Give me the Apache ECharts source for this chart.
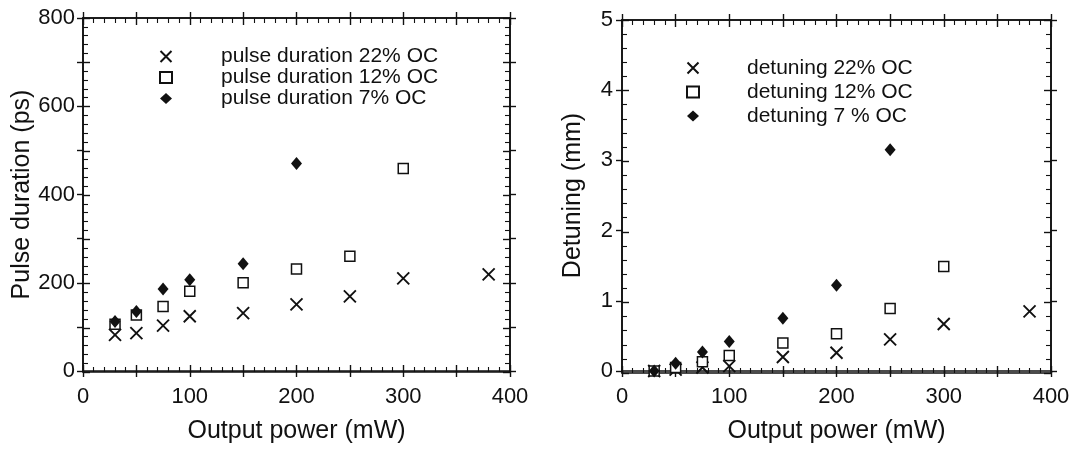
<!DOCTYPE html>
<html>
<head>
<meta charset="utf-8">
<script src="https://cdn.jsdelivr.net/npm/echarts@6/dist/echarts.min.js"></script>
<style>
  html, body { margin: 0; padding: 0; background: #fff; }
  #main { width: 1079px; height: 449px; }
</style>
</head>
<body>
<div id="main"></div>
<script>
// left panel: pulse duration (ps) vs output power (mW)
const power22 = [30, 50, 75, 100, 150, 200, 250, 300, 380];
const pulse22 = [82, 86, 103, 124, 131, 151, 169, 210, 219];
const power12 = [30, 50, 75, 100, 150, 200, 250, 300];
const pulse12 = [106, 127, 146, 181, 200, 231, 260, 459];
const power7 = [30, 50, 75, 100, 150, 200];
const pulse7 = [112, 135, 186, 207, 243, 470];

// right panel: detuning (mm) vs output power (mW)
const detPower22 = [30, 50, 75, 100, 150, 200, 250, 300, 380];
const detuning22 = [0, 0.02, 0.05, 0.07, 0.2, 0.26, 0.45, 0.67, 0.85];
const detPower12 = [30, 50, 75, 100, 150, 200, 250, 300];
const detuning12 = [0, 0.05, 0.13, 0.22, 0.4, 0.53, 0.89, 1.49];
const detPower7 = [30, 50, 75, 100, 150, 200, 250];
const detuning7 = [0, 0.11, 0.27, 0.42, 0.75, 1.22, 3.15];

const xLabels = [0, 100, 200, 300, 400];
const pulseLabels = [0, 200, 400, 600, 800];

const FONT = "'Liberation Sans', Arial, sans-serif";
const INK = '#111';
const CROSS = 'path://M0,0L10,10M0,10L10,0';

function pairs(xs, ys) {
  return xs.map((x, i) => [x, ys[i]]);
}

// outward: labelled axis with ticks sticking out; inward: same scale, ticks + minor ticks inside
function axis(o) {
  const inward = !!o.inward;
  return {
    type: 'value',
    gridIndex: o.grid, position: o.pos,
    min: o.min, max: o.max, interval: o.interval,
    name: o.name || '', nameLocation: 'middle', nameGap: o.nameGap || 0,
    nameTextStyle: { fontFamily: FONT, fontSize: 25, color: INK },
    axisLine: { show: true, onZero: false, lineStyle: { color: INK, width: 1.6 } },
    axisTick: { show: true, inside: inward, length: inward ? 7 : 6, lineStyle: { color: INK, width: 1.4 } },
    minorTick: { show: inward, splitNumber: 5, length: 5, lineStyle: { color: INK, width: 1.1 } },
    splitLine: { show: false },
    minorSplitLine: { show: false },
    axisLabel: {
      show: !!o.labels, margin: o.margin || 8,
      fontFamily: FONT, fontSize: 22, color: INK,
      formatter: o.labels ? (v => o.labels.includes(v) ? String(v) : '') : undefined
    }
  };
}

const crossStyle = { color: INK, borderColor: INK, borderWidth: 1.9, opacity: 1 };
const squareStyle = { color: '#fff', borderColor: INK, borderWidth: 1.5, opacity: 1 };
const diamondStyle = { color: INK, opacity: 1 };

function scatter(name, data, kind, xi, yi) {
  const s = { name, type: 'scatter', xAxisIndex: xi, yAxisIndex: yi, data, z: 3 };
  if (kind === 'x') { s.symbol = CROSS; s.symbolSize = 12; s.itemStyle = crossStyle; }
  if (kind === 's') { s.symbol = 'rect'; s.symbolSize = 10; s.itemStyle = squareStyle; }
  if (kind === 'd') { s.symbol = 'diamond'; s.symbolSize = [11, 13]; s.itemStyle = diamondStyle; }
  return s;
}

function legend(names, left, top, pad, lh) {
  return {
    data: names, orient: 'vertical', left, top,
    itemWidth: 12, itemHeight: 11, itemGap: 0,
    selectedMode: false,
    textStyle: { fontFamily: FONT, fontSize: 21, color: INK, lineHeight: lh, padding: [0, 0, 0, pad] }
  };
}

const leftRect = { left: 83, right: 569, top: 18, bottom: 77 };
const rightRect = { left: 622, right: 28, top: 20, bottom: 76 };

const chart = echarts.init(document.getElementById('main'));
chart.setOption({
  backgroundColor: '#fff',
  animation: false,
  // grids 0/1 carry data + outward ticks, grids 2/3 overlay them for inward ticks
  grid: [leftRect, rightRect, leftRect, rightRect],
  legend: [
    legend(['pulse duration 22% OC', 'pulse duration 12% OC', 'pulse duration 7% OC'], 154, 41, 44, 21),
    legend(['detuning 22% OC', 'detuning 12% OC', 'detuning 7 % OC'], 681, 51, 43, 24)
  ],
  xAxis: [
    axis({ grid: 0, pos: 'bottom', min: 0, max: 400, interval: 50, labels: xLabels, margin: 15,
           name: 'Output power (mW)', nameGap: 48 }),
    axis({ grid: 0, pos: 'top', min: 0, max: 400, interval: 50 }),
    axis({ grid: 1, pos: 'bottom', min: 0, max: 400, interval: 50, labels: xLabels, margin: 15,
           name: 'Output power (mW)', nameGap: 48 }),
    axis({ grid: 1, pos: 'top', min: 0, max: 400, interval: 50 }),
    axis({ grid: 2, pos: 'bottom', min: 0, max: 400, interval: 50, inward: true }),
    axis({ grid: 2, pos: 'top', min: 0, max: 400, interval: 50, inward: true }),
    axis({ grid: 3, pos: 'bottom', min: 0, max: 400, interval: 50, inward: true }),
    axis({ grid: 3, pos: 'top', min: 0, max: 400, interval: 50, inward: true })
  ],
  yAxis: [
    axis({ grid: 0, pos: 'left', min: 0, max: 800, interval: 100, labels: pulseLabels, margin: 8,
           name: 'Pulse duration (ps)', nameGap: 48 }),
    axis({ grid: 0, pos: 'right', min: 0, max: 800, interval: 100 }),
    axis({ grid: 1, pos: 'left', min: 0, max: 5, interval: 1, labels: [0, 1, 2, 3, 4, 5], margin: 9,
           name: 'Detuning (mm)', nameGap: 36 }),
    axis({ grid: 1, pos: 'right', min: 0, max: 5, interval: 1 }),
    axis({ grid: 2, pos: 'left', min: 0, max: 800, interval: 100, inward: true }),
    axis({ grid: 2, pos: 'right', min: 0, max: 800, interval: 100, inward: true }),
    axis({ grid: 3, pos: 'left', min: 0, max: 5, interval: 1, inward: true }),
    axis({ grid: 3, pos: 'right', min: 0, max: 5, interval: 1, inward: true })
  ],
  series: [
    scatter('pulse duration 22% OC', pairs(power22, pulse22), 'x', 0, 0),
    scatter('pulse duration 12% OC', pairs(power12, pulse12), 's', 0, 0),
    scatter('pulse duration 7% OC', pairs(power7, pulse7), 'd', 0, 0),
    scatter('detuning 22% OC', pairs(detPower22, detuning22), 'x', 2, 2),
    scatter('detuning 12% OC', pairs(detPower12, detuning12), 's', 2, 2),
    scatter('detuning 7 % OC', pairs(detPower7, detuning7), 'd', 2, 2)
  ]
});
</script>
</body>
</html>
